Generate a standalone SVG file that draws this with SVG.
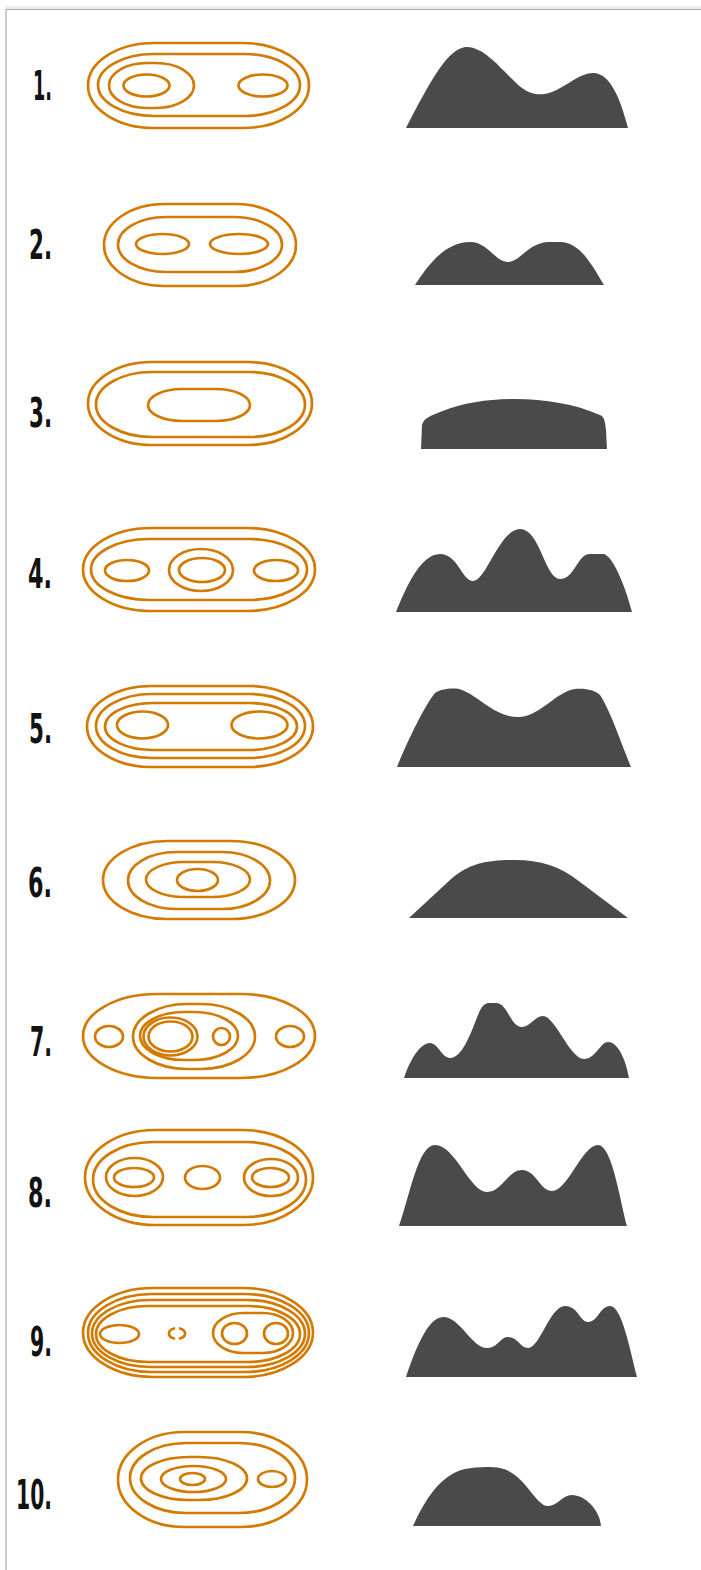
<svg xmlns="http://www.w3.org/2000/svg" width="701" height="1570" viewBox="0 0 701 1570">
  <style>
    .c { fill: none; stroke: #d27a02; stroke-width: 2.7; }
    .p { fill: #4a4a4b; }
    .n { font-family: "DejaVu Sans", "Liberation Sans", sans-serif; font-weight: bold; font-size: 41px; fill: #121212; }
  </style>

  <!-- page frame -->
  <g id="frame">
    <rect x="0" y="0" width="701" height="1570" fill="#ffffff"/>
    <line x1="5" y1="7.8" x2="701" y2="7.8" stroke="#ececec" stroke-width="3"/>
    <line x1="6" y1="9.5" x2="701" y2="9.5" stroke="#a9a9a9" stroke-width="1.2"/>
    <line x1="6" y1="9.5" x2="6" y2="1570" stroke="#a9a9a9" stroke-width="1.2"/>
  </g>

  <!-- 1 -->
  <g id="item1">
    <text class="n" x="33" y="100" textLength="19" lengthAdjust="spacingAndGlyphs">1.</text>
    <rect class="c" x="88" y="43" width="221" height="85" rx="66" ry="42.5"/>
    <rect class="c" x="98" y="54" width="202" height="62" rx="56" ry="31"/>
    <rect class="c" x="109" y="63" width="85" height="45" rx="38" ry="22.5"/>
    <ellipse class="c" cx="146.5" cy="85.5" rx="23" ry="11"/>
    <ellipse class="c" cx="263" cy="85.5" rx="24.5" ry="11"/>
    <path class="p" d="M406,128 C418,105 438,65 452,54 C458,49 462,47 467,47 C487,47 508,78 522,88 C530,94 538,95 545,94 C562,91 578,73 593,73 C612,73 622,105 628,128 Z"/>
  </g>

  <!-- 2 -->
  <g id="item2">
    <text class="n" x="29" y="259" textLength="23" lengthAdjust="spacingAndGlyphs">2.</text>
    <rect class="c" x="104" y="204" width="192" height="82" rx="60" ry="41"/>
    <rect class="c" x="118" y="217" width="164" height="55" rx="48" ry="27.5"/>
    <ellipse class="c" cx="162.5" cy="244" rx="26.5" ry="10"/>
    <ellipse class="c" cx="239" cy="244" rx="29" ry="10"/>
    <path class="p" d="M415,285 C428,265 445,242 470,242 C488,242 495,262 508,262 C520,262 528,243 548,242 L560,242 C580,242 592,265 604,285 Z"/>
  </g>

  <!-- 3 -->
  <g id="item3">
    <text class="n" x="29" y="427" textLength="23" lengthAdjust="spacingAndGlyphs">3.</text>
    <rect class="c" x="88" y="362" width="224" height="83" rx="64" ry="41.5"/>
    <rect class="c" x="96" y="372" width="209" height="65" rx="56" ry="32.5"/>
    <rect class="c" x="148" y="389" width="102" height="32" rx="34" ry="16"/>
    <path class="p" d="M421,449 L422,425 C424,418 430,416 440,412 C465,402 490,399 515,399 C545,399 575,404 600,415 C604,417 605,420 606,430 L607,449 Z"/>
  </g>

  <!-- 4 -->
  <g id="item4">
    <text class="n" x="28" y="588" textLength="24" lengthAdjust="spacingAndGlyphs">4.</text>
    <rect class="c" x="83" y="528" width="232" height="83" rx="68" ry="41.5"/>
    <rect class="c" x="91" y="539" width="216" height="61" rx="58" ry="30.5"/>
    <ellipse class="c" cx="127" cy="570.5" rx="22" ry="10.5"/>
    <ellipse class="c" cx="201" cy="570" rx="32" ry="21"/>
    <ellipse class="c" cx="202" cy="570" rx="23" ry="12"/>
    <ellipse class="c" cx="276" cy="570.5" rx="22" ry="10.5"/>
    <path class="p" d="M396,612 C405,590 420,554 440,554 C458,554 462,581 473,581 C486,581 500,529 520,529 C540,529 545,579 560,579 C575,579 577,554 590,554 L603,554 C612,554 625,585 632,612 Z"/>
  </g>

  <!-- 5 -->
  <g id="item5">
    <text class="n" x="29" y="743" textLength="23" lengthAdjust="spacingAndGlyphs">5.</text>
    <rect class="c" x="87" y="686" width="226" height="81" rx="64" ry="40.5"/>
    <rect class="c" x="96" y="694" width="209" height="64" rx="56" ry="32"/>
    <rect class="c" x="105" y="703" width="192" height="47" rx="48" ry="23.5"/>
    <ellipse class="c" cx="142.5" cy="725" rx="25.5" ry="13.5"/>
    <ellipse class="c" cx="259.5" cy="725" rx="28" ry="13.5"/>
    <path class="p" d="M397,767 C408,740 425,705 435,693 C440,689 455,687 462,690 C480,697 495,717 518,717 C540,717 555,692 575,689 C585,688 595,690 600,695 C610,710 620,740 631,767 Z"/>
  </g>

  <!-- 6 -->
  <g id="item6">
    <text class="n" x="28" y="897" textLength="24" lengthAdjust="spacingAndGlyphs">6.</text>
    <rect class="c" x="103" y="841" width="192" height="78" rx="64" ry="39"/>
    <rect class="c" x="128" y="852" width="142" height="57" rx="48" ry="28.5"/>
    <rect class="c" x="146" y="862" width="104" height="35" rx="38" ry="17.5"/>
    <ellipse class="c" cx="197.5" cy="880" rx="20.5" ry="11"/>
    <path class="p" d="M409,918 L450,880 C470,862 490,860 515,860 C540,860 560,866 580,882 L628,918 Z"/>
  </g>

  <!-- 7 -->
  <g id="item7">
    <text class="n" x="30" y="1056" textLength="22" lengthAdjust="spacingAndGlyphs">7.</text>
    <rect class="c" x="83" y="994" width="232" height="84" rx="74" ry="42"/>
    <ellipse class="c" cx="109" cy="1036.5" rx="14" ry="10.5"/>
    <ellipse class="c" cx="290" cy="1036.5" rx="14" ry="10.5"/>
    <rect class="c" x="133" y="1004" width="122" height="65" rx="54" ry="32.5"/>
    <rect class="c" x="140" y="1012" width="98" height="48" rx="44" ry="24"/>
    <ellipse class="c" cx="170.5" cy="1036.5" rx="27" ry="19"/>
    <ellipse class="c" cx="170.5" cy="1036.5" rx="22" ry="15"/>
    <ellipse class="c" cx="221.5" cy="1036.5" rx="8.5" ry="8.5"/>
    <path class="p" d="M404,1078 C410,1060 420,1043 430,1043 C438,1043 442,1058 450,1058 C462,1058 470,1035 478,1015 C482,1005 485,1003 490,1003 L496,1003 C508,1003 510,1027 522,1027 C530,1027 535,1016 543,1016 C555,1016 570,1059 584,1059 C596,1059 600,1042 608,1042 C618,1042 626,1060 629,1078 Z"/>
  </g>

  <!-- 8 -->
  <g id="item8">
    <text class="n" x="28" y="1207" textLength="24" lengthAdjust="spacingAndGlyphs">8.</text>
    <rect class="c" x="85" y="1130" width="228" height="95" rx="70" ry="47.5"/>
    <rect class="c" x="93" y="1142" width="213" height="75" rx="60" ry="37.5"/>
    <ellipse class="c" cx="134.5" cy="1177" rx="28.5" ry="19"/>
    <ellipse class="c" cx="134" cy="1177.5" rx="20" ry="9.5"/>
    <ellipse class="c" cx="202.5" cy="1177.5" rx="17.5" ry="11.5"/>
    <ellipse class="c" cx="271" cy="1177.5" rx="27" ry="18.5"/>
    <ellipse class="c" cx="270.5" cy="1177.5" rx="18.5" ry="9.5"/>
    <path class="p" d="M399,1226 C410,1195 418,1145 435,1145 C455,1145 470,1192 487,1192 C502,1192 508,1170 522,1170 C536,1170 540,1191 552,1191 C568,1191 582,1145 598,1145 C612,1145 620,1200 627,1226 Z"/>
  </g>

  <!-- 9 -->
  <g id="item9">
    <text class="n" x="30" y="1356" textLength="22" lengthAdjust="spacingAndGlyphs">9.</text>
    <rect class="c" x="83" y="1288" width="230" height="89" rx="70" ry="44.5"/>
    <rect class="c" x="88" y="1294" width="221" height="78" rx="64" ry="39"/>
    <rect class="c" x="92" y="1300" width="213" height="67" rx="58" ry="33.5"/>
    <rect class="c" x="96" y="1306" width="204" height="56" rx="52" ry="28"/>
    <ellipse class="c" cx="119.5" cy="1334" rx="19.5" ry="9"/>
    <path class="c" d="M175,1328.3 A9,5.5 0 0 0 175,1338.7"/>
    <path class="c" d="M179,1328.3 A9,5.5 0 0 1 179,1338.7"/>
    <rect class="c" x="213" y="1313" width="80" height="40" rx="30" ry="20"/>
    <ellipse class="c" cx="234.5" cy="1333.5" rx="12.5" ry="10.5"/>
    <ellipse class="c" cx="276" cy="1333.5" rx="12" ry="10.5"/>
    <path class="p" d="M406,1377 C415,1350 428,1317 443,1317 C460,1317 472,1348 487,1348 C498,1348 500,1337 508,1337 C518,1337 520,1348 528,1348 C540,1348 550,1306 565,1306 C578,1306 580,1322 588,1322 C598,1322 600,1306 610,1306 C622,1306 630,1350 637,1377 Z"/>
  </g>

  <!-- 10 -->
  <g id="item10">
    <text class="n" x="16" y="1509" textLength="36" lengthAdjust="spacingAndGlyphs">10.</text>
    <rect class="c" x="118" y="1432" width="189" height="95" rx="66" ry="47.5"/>
    <rect class="c" x="130" y="1443" width="165" height="70" rx="56" ry="35"/>
    <rect class="c" x="141" y="1457" width="106" height="43" rx="48" ry="21.5"/>
    <ellipse class="c" cx="193.5" cy="1479" rx="32.5" ry="13"/>
    <ellipse class="c" cx="192.5" cy="1479" rx="12.5" ry="6"/>
    <ellipse class="c" cx="272" cy="1479" rx="14" ry="8"/>
    <path class="p" d="M413,1526 C425,1500 440,1475 465,1469 C475,1467 490,1466 500,1468 C525,1473 535,1506 548,1506 C558,1506 562,1495 572,1495 C585,1495 600,1510 601,1526 Z"/>
  </g>

  <g id="connectors"/>
</svg>
